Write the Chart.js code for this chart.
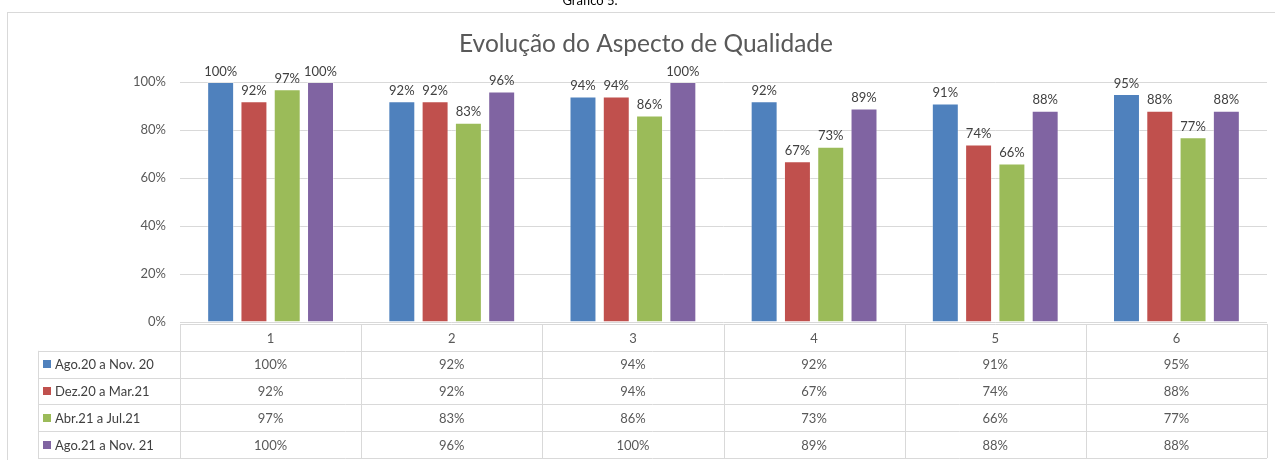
<!DOCTYPE html>
<html lang="pt">
<head>
    <meta charset="UTF-8">
    <title>Evolução do Aspecto de Qualidade</title>
    <script src="https://cdn.jsdelivr.net/npm/chart.js"></script>
    <style>
        body {
            margin: 0;
            background: white;
            font-family: Lato, 'Open Sans', sans-serif;
        }
        .wrap {
            position: relative;
            width: 1275px;
            height: 460px;
        }
    </style>
</head>
<body>
    <div class="wrap">
        <canvas id="qualityChart"></canvas>
    </div>

    <script>
        const categories = ['1', '2', '3', '4', '5', '6'];
        const seriesNames = ['Ago.20 a Nov. 20', 'Dez.20 a Mar.21', 'Abr.21 a Jul.21', 'Ago.21 a Nov. 21'];
        const ago20 = [100, 92, 94, 92, 91, 95];
        const dez20 = [92, 92, 94, 67, 74, 88];
        const abr21 = [97, 83, 86, 73, 66, 77];
        const ago21 = [100, 96, 100, 89, 88, 88];
        const yTicks = [0, 20, 40, 60, 80, 100];
        const colors = ['#4f81bd', '#c0504d', '#9bbb59', '#8064a2'];

        const FONT = 'Lato, "Open Sans", sans-serif';
        const GRID = '#d9d9d9';

        // caption, frame and title
        const framePlugin = {
            id: 'frame',
            beforeDraw(chart) {
                const ctx = chart.ctx;
                ctx.save();
                ctx.fillStyle = '#000';
                ctx.font = '13px ' + FONT;
                ctx.textAlign = 'center';
                ctx.textBaseline = 'alphabetic';
                ctx.fillText('Gráfico 5.', 590, 5);
                ctx.strokeStyle = GRID;
                ctx.lineWidth = 1;
                ctx.strokeRect(7.5, 12.5, 1300, 500);
                ctx.fillStyle = '#595959';
                ctx.font = '24.5px ' + FONT;
                ctx.textBaseline = 'middle';
                ctx.fillText('Evolução do Aspecto de Qualidade', 646, 44);
                ctx.restore();
            }
        };

        // value labels above the bars
        const labelPlugin = {
            id: 'barLabels',
            afterDatasetsDraw(chart) {
                const ctx = chart.ctx;
                ctx.save();
                ctx.fillStyle = '#404040';
                ctx.font = '13px ' + FONT;
                ctx.textAlign = 'center';
                ctx.textBaseline = 'bottom';
                chart.data.datasets.forEach((ds, i) => {
                    chart.getDatasetMeta(i).data.forEach((bar, j) => {
                        ctx.fillText(ds.data[j] + '%', bar.x, bar.y - 4);
                    });
                });
                ctx.restore();
            }
        };

        // data table under the plot
        const tablePlugin = {
            id: 'dataTable',
            afterDraw(chart) {
                const ctx = chart.ctx;
                const area = chart.chartArea;
                const x = chart.scales.x;
                const colW = (area.right - area.left) / categories.length;
                const top = area.bottom + 2;
                const rowH = 26.8;
                const legendLeft = 38;
                const rows = seriesNames.length;

                ctx.save();
                ctx.strokeStyle = GRID;
                ctx.lineWidth = 1;
                ctx.beginPath();
                // header row
                ctx.moveTo(area.left, top + 0.5);
                ctx.lineTo(area.right, top + 0.5);
                for (let r = 1; r <= rows + 1; r++) {
                    const y = Math.round(top + r * rowH) + 0.5;
                    ctx.moveTo(legendLeft, y);
                    ctx.lineTo(area.right, y);
                }
                for (let c = 0; c <= categories.length; c++) {
                    const cx = Math.round(area.left + c * colW) + 0.5;
                    ctx.moveTo(cx, top);
                    ctx.lineTo(cx, top + (rows + 1) * rowH);
                }
                ctx.moveTo(legendLeft + 0.5, top + rowH);
                ctx.lineTo(legendLeft + 0.5, top + (rows + 1) * rowH);
                ctx.stroke();

                ctx.font = '13px ' + FONT;
                ctx.textBaseline = 'middle';
                ctx.textAlign = 'center';
                ctx.fillStyle = '#595959';
                categories.forEach((cat, c) => {
                    ctx.fillText(cat, x.getPixelForValue(c), top + rowH / 2 + 1);
                });

                chart.data.datasets.forEach((ds, r) => {
                    const cy = top + (r + 1) * rowH + rowH / 2 + 1;
                    ctx.textAlign = 'center';
                    ctx.fillStyle = '#595959';
                    ds.data.forEach((v, c) => {
                        ctx.fillText(v + '%', x.getPixelForValue(c), cy);
                    });
                    ctx.fillStyle = colors[r];
                    ctx.fillRect(43, Math.round(cy) - 5, 8, 8);
                    ctx.fillStyle = '#404040';
                    ctx.textAlign = 'left';
                    ctx.fillText(ds.label, 55, cy);
                });
                ctx.restore();
            }
        };

        const datasets = [ago20, dez20, abr21, ago21].map((values, i) => ({
            label: seriesNames[i],
            data: values,
            backgroundColor: colors[i],
            borderColor: 'rgba(255,255,255,0.35)',
            borderWidth: 1,
            barPercentage: 0.81,
            categoryPercentage: 0.735
        }));

        new Chart(document.getElementById('qualityChart'), {
            type: 'bar',
            data: { labels: categories, datasets: datasets },
            options: {
                responsive: true,
                maintainAspectRatio: false,
                animation: false,
                layout: {
                    padding: { left: 0, right: 8, top: 82, bottom: 138 }
                },
                plugins: {
                    legend: { display: false },
                    title: { display: false },
                    tooltip: { enabled: false }
                },
                scales: {
                    x: {
                        display: false
                    },
                    y: {
                        min: 0,
                        max: 100,
                        afterFit(scale) { scale.width = 180; },
                        afterBuildTicks(scale) {
                            scale.ticks = yTicks.map(v => ({ value: v }));
                        },
                        border: { display: false },
                        grid: { color: GRID, drawTicks: false },
                        ticks: {
                            padding: 14,
                            color: '#595959',
                            font: { family: FONT, size: 13 },
                            callback: v => v + '%'
                        }
                    }
                }
            },
            plugins: [framePlugin, labelPlugin, tablePlugin]
        });
    </script>
</body>
</html>
